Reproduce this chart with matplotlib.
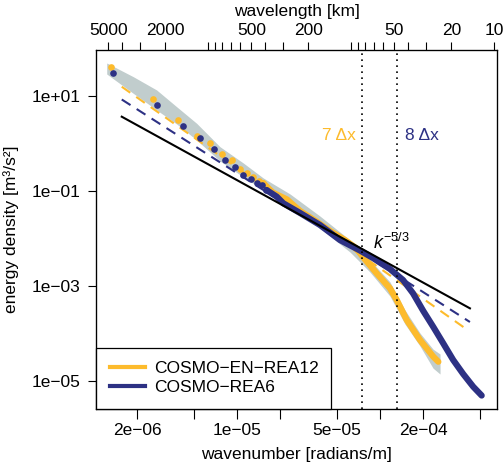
import numpy as np
import matplotlib
matplotlib.use("Agg")
import matplotlib.pyplot as plt

plt.rcParams['font.family'] = ['Liberation Sans', 'DejaVu Sans']
plt.rcParams['mathtext.fontset'] = 'custom'
plt.rcParams['mathtext.rm'] = 'Liberation Sans'
plt.rcParams['mathtext.it'] = 'Liberation Sans:italic'

# colours
yellowCol = '#FDBB2C'
blueCol = '#2D3184'
bandCol = '#C1CDCD'
fs = 12.5

# COSMO-EN-REA12, first wavenumbers (separate dots)
kYellowDots = [1.30e-6, 2.59e-6, 3.88e-6, 5.20e-6, 6.44e-6, 7.78e-6, 9.14e-6,
               1.045e-5, 1.175e-5, 1.294e-5, 1.419e-5, 1.52e-5]
eYellowDots = [39.6, 8.4, 3.08, 1.42, 0.996, 0.593, 0.443, 0.282, 0.232,
               0.191, 0.160, 0.145]
# COSMO-EN-REA12, dense part of the spectrum
kYellowLine = [1.514e-5, 1.778e-5, 2.228e-5, 2.748e-5, 3.49e-5, 4.45e-5,
               5.66e-5, 6.76e-5, 7.57e-5, 9.44e-5, 1.169e-4, 1.303e-4,
               1.531e-4, 1.897e-4, 2.350e-4, 2.547e-4]
eYellowLine = [0.145, 0.0908, 0.0653, 0.0374, 0.0236, 0.0142, 0.00916,
               0.00622, 0.00402, 0.00182, 8.81e-4, 5.00e-4, 1.897e-4,
               7.19e-5, 3.20e-5, 2.51e-5]

# COSMO-REA6
kBlueDots = [1.358e-6, 2.73e-6, 4.15e-6, 5.48e-6, 6.87e-6, 8.20e-6, 9.64e-6,
             1.10e-5, 1.24e-5, 1.37e-5, 1.49e-5, 1.60e-5]
eBlueDots = [30.5, 6.47, 2.30, 1.27, 0.745, 0.443, 0.323, 0.214, 0.178,
             0.147, 0.135, 0.104]
kBlueLine = [1.600e-5, 1.888e-5, 2.099e-5, 2.748e-5, 3.784e-5, 5.224e-5,
             7.21e-5, 8.89e-5, 1.169e-4, 1.442e-4, 1.694e-4, 2.000e-4,
             2.350e-4, 2.761e-4, 3.236e-4, 3.802e-4, 4.467e-4, 5.117e-4]
eBlueLine = [0.1035, 0.0748, 0.0543, 0.0340, 0.0190, 0.00916, 0.00551,
             0.00383, 0.00225, 0.00132, 6.92e-4, 2.93e-4, 1.352e-4,
             6.07e-5, 2.73e-5, 1.384e-5, 7.48e-6, 4.88e-6]

# ensemble spread band
kBand = [1.222e-6, 1.875e-6, 2.729e-6, 3.767e-6, 5.200e-6, 7.568e-6,
         1.102e-5, 1.521e-5, 2.339e-5, 3.784e-5, 6.138e-5, 8.47e-5,
         1.169e-4, 1.489e-4, 1.897e-4, 2.339e-4, 2.618e-4]
bandUpper = [48.8, 25.1, 13.2, 5.86, 2.62, 0.843, 0.383, 0.185, 0.0853,
             0.0293, 0.00916, 0.00348, 0.00120, 3.07e-4, 1.005e-4, 4.62e-5,
             3.65e-5]
bandLower = [28.6, 11.2, 5.00, 2.54, 1.167, 0.422, 0.194, 0.1035, 0.0476,
             0.0164, 0.00512, 0.00194, 6.04e-4, 1.556e-4, 5.35e-5, 1.84e-5,
             1.384e-5]

# reference lines (end points)
kRef = [1.556e-6, 4.236e-4]
eRefK53 = [3.614, 3.34e-4]
kFitYellow = [1.556e-6, 4.036e-4]
eFitYellow = [15.45, 1.197e-4]
kFitBlue = [1.556e-6, 4.236e-4]
eFitBlue = [8.32, 1.722e-4]

# effective resolution wavelengths [km]
effResYellow = 84.0   # 7 dx, dx = 12 km
effResBlue = 48.0     # 8 dx, dx = 6 km

xTicks = [2e-6, 5e-6, 1e-5, 2e-5, 5e-5, 1e-4, 2e-4, 5e-4]
xTickLabels = ['2e\u221206', '', '1e\u221205', '', '5e\u221205', '', '2e\u221204', '']
yTicks = [1e1, 1e-1, 1e-3, 1e-5]
yTickLabels = ['1e+01', '1e\u221201', '1e\u221203', '1e\u221205']
topTicks = [5000, 4000, 3000, 2000, 1000, 900, 800, 700, 600, 500, 400, 300,
            200, 100, 90, 80, 70, 60, 50, 40, 30, 20, 10]
topLabeled = [5000, 2000, 500, 200, 50, 20, 10]

fig = plt.figure(figsize=(5.04, 4.66), dpi=100)
ax = fig.add_axes([96/504, 1-409/466, 401/504, 359/466])
ax.set_xscale('log')
ax.set_yscale('log')
ax.set_xlim(1.028e-6, 6.55e-4)
ax.set_ylim(2.54e-6, 91.6)

ax.fill_between(kBand, bandLower, bandUpper, color=bandCol, lw=0, zorder=1)

ax.plot(kFitYellow, eFitYellow, color=yellowCol, lw=1.5, ls=(0, (5, 3.5)), zorder=2)
ax.plot(kFitBlue, eFitBlue, color=blueCol, lw=1.5, ls=(0, (5, 3.5)), zorder=2)

ax.plot(kYellowLine, eYellowLine, color=yellowCol, lw=4.5,
        solid_capstyle='round', solid_joinstyle='round', zorder=3)
ax.plot(kYellowDots, eYellowDots, 'o', color=yellowCol, ms=4.8, mew=0, zorder=3)
ax.plot(kBlueLine, eBlueLine, color=blueCol, lw=4.5,
        solid_capstyle='round', solid_joinstyle='round', zorder=4)
ax.plot(kBlueDots, eBlueDots, 'o', color=blueCol, ms=4.8, mew=0, zorder=4)

ax.plot(kRef, eRefK53, color='black', lw=1.5, zorder=5)

for lam in [effResYellow, effResBlue]:
    ax.axvline(2*np.pi/(lam*1000), color='black', lw=1.2, ls=(0, (1, 2.6)), zorder=6)

ax.text(6.76e-5, 1.42, '7 \u0394x', color=yellowCol, fontsize=fs,
        ha='right', va='center')
ax.text(1.49e-4, 1.42, '8 \u0394x', color=blueCol, fontsize=fs,
        ha='left', va='center')
ax.text(8.9e-5, 5.9e-3, r'$\mathit{k}^{\mathrm{-5/3}}$', fontsize=13,
        ha='left', va='baseline')

ax.set_xticks(xTicks)
ax.set_xticklabels(xTickLabels)
ax.xaxis.set_minor_locator(matplotlib.ticker.NullLocator())
ax.set_yticks(yTicks)
ax.set_yticklabels(yTickLabels)
ax.yaxis.set_minor_locator(matplotlib.ticker.NullLocator())
ax.tick_params(axis='x', length=7, width=0.8, pad=3, labelsize=fs)
ax.tick_params(axis='y', length=6, width=0.8, pad=5, labelsize=fs)
for s in ax.spines.values():
    s.set_linewidth(0.9)

ax.set_xlabel('wavenumber [radians/m]', fontsize=fs, va='center')
ax.xaxis.set_label_coords(0.5, (409-455)/359)
ax.set_ylabel('energy density [m\u00b3/s\u00b2]', fontsize=fs, va='center')
ax.yaxis.set_label_coords((11-96)/401, 0.5)

# top axis: wavelength
ax2 = ax.twiny()
ax2.set_xscale('log')
ax2.set_xlim(ax.get_xlim())
ax2.set_xticks([2*np.pi/(l*1000) for l in topTicks])
ax2.set_xticklabels([str(l) if l in topLabeled else '' for l in topTicks])
ax2.xaxis.set_minor_locator(matplotlib.ticker.NullLocator())
ax2.tick_params(axis='x', length=5.5, width=0.8, pad=3, labelsize=fs)
ax2.set_xlabel('wavelength [km]', fontsize=fs, va='center')
ax2.xaxis.set_label_coords(0.5, (409-11)/359)

# legend
ax.plot([], [], color=yellowCol, lw=3, label='COSMO\u2212EN\u2212REA12')
ax.plot([], [], color=blueCol, lw=3, label='COSMO\u2212REA6')
handles, labels = ax.get_legend_handles_labels()
leg = ax.legend(handles[-2:], labels[-2:], loc='lower left',
                bbox_to_anchor=(0, 0, 0.586, 0.2), mode='expand',
                borderaxespad=0, fancybox=False, edgecolor='black',
                fontsize=fs, handlelength=2.05, handletextpad=0.5,
                labelspacing=0.22, borderpad=0.78, framealpha=1)
leg.get_frame().set_linewidth(0.9)

fig.savefig('out.png', dpi=100)
